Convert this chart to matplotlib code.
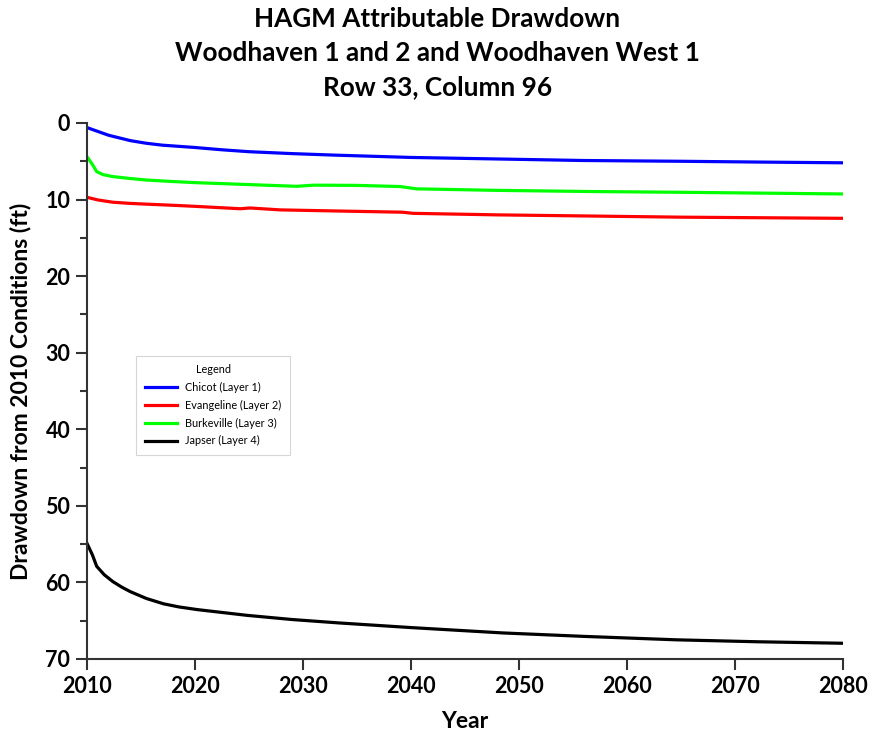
import matplotlib
matplotlib.use("Agg")
import matplotlib.pyplot as plt
from matplotlib.ticker import MultipleLocator

plt.rcParams["font.family"] = ["Lato", "DejaVu Sans"]

# Chicot (Layer 1)
chicot_yr = [2010, 2011, 2012, 2013, 2014, 2015.5, 2017, 2020, 2022.5, 2025, 2029, 2033, 2040, 2048, 2056, 2065, 2072, 2080]
chicot_dd = [0.6, 1.1, 1.6, 1.95, 2.3, 2.65, 2.9, 3.2, 3.5, 3.75, 4.0, 4.2, 4.5, 4.7, 4.9, 5.0, 5.1, 5.2]

# Evangeline (Layer 2)
evang_yr = [2010, 2011, 2012.4, 2014, 2015.5, 2018, 2020.2, 2024.2, 2025.1, 2027.9, 2033.4, 2039.2, 2040.2, 2048, 2056.6, 2065, 2080]
evang_dd = [9.7, 10.05, 10.35, 10.5, 10.6, 10.75, 10.9, 11.2, 11.1, 11.35, 11.5, 11.65, 11.8, 12.0, 12.15, 12.3, 12.45]

# Burkeville (Layer 3)
burk_yr = [2010, 2010.5, 2010.9, 2011.5, 2012.4, 2014, 2015.5, 2018, 2020.2, 2025.1, 2029.4, 2031, 2035, 2039, 2040.5, 2048, 2056.6, 2065, 2080]
burk_dd = [4.4, 5.4, 6.35, 6.75, 7.0, 7.25, 7.45, 7.65, 7.8, 8.05, 8.27, 8.12, 8.15, 8.3, 8.6, 8.8, 8.95, 9.05, 9.27]

# Japser (Layer 4)
jasp_yr = [2010, 2010.5, 2010.9, 2011.6, 2012.4, 2013.2, 2014, 2015.5, 2017.1, 2018.5, 2020.2, 2024.8, 2029, 2033.4, 2040, 2048.5, 2056, 2064.6, 2072, 2080]
jasp_dd = [54.9, 56.4, 57.9, 59.0, 59.9, 60.6, 61.2, 62.1, 62.8, 63.2, 63.55, 64.3, 64.85, 65.3, 65.9, 66.6, 67.05, 67.5, 67.75, 67.95]

fig = plt.figure(figsize=(8.75, 7.4), dpi=100)
ax = fig.add_axes([0.0994, 0.1095, 0.864, 0.7243])

ax.plot(chicot_yr, chicot_dd, color="#0000ff", lw=2.3, label="Chicot (Layer 1)")
ax.plot(evang_yr, evang_dd, color="#ff0000", lw=2.3, label="Evangeline (Layer 2)")
ax.plot(burk_yr, burk_dd, color="#00ff00", lw=2.3, label="Burkeville (Layer 3)")
ax.plot(jasp_yr, jasp_dd, color="#000000", lw=2.3, label="Japser (Layer 4)")

ax.set_xlim(2010, 2080)
ax.set_ylim(70, 0)
ax.xaxis.set_major_locator(MultipleLocator(10))
ax.yaxis.set_major_locator(MultipleLocator(10))
ax.yaxis.set_minor_locator(MultipleLocator(5))

for s in ["top", "right"]:
    ax.spines[s].set_visible(False)
for s in ["left", "bottom"]:
    ax.spines[s].set_linewidth(1.5)
    ax.spines[s].set_color("#333333")
ax.tick_params(axis="both", which="major", length=8, width=1.5, color="#333333",
               labelsize=15.5, pad=4)
ax.tick_params(axis="y", which="minor", length=5, width=1.5, color="#333333")
for lbl in ax.get_xticklabels() + ax.get_yticklabels():
    lbl.set_fontweight("bold")

ax.set_xlabel("Year", fontsize=16.5, fontweight="bold", labelpad=10)
ax.set_ylabel("Drawdown from 2010 Conditions (ft)", fontsize=16.5, fontweight="bold", labelpad=10)

fig.suptitle("HAGM Attributable Drawdown\nWoodhaven 1 and 2 and Woodhaven West 1\nRow 33, Column 96",
             fontsize=18.8, fontweight="bold", y=0.99, linespacing=1.5)

leg = ax.legend(loc="upper left", bbox_to_anchor=(0.058, 0.576), title="Legend",
                fontsize=7.8, title_fontsize=7.8, frameon=True, fancybox=False,
                handlelength=3.0, handletextpad=0.7, borderpad=0.8, labelspacing=0.62,
                edgecolor="#cccccc")
leg.get_frame().set_linewidth(0.8)

fig.savefig("out.png", dpi=100)
